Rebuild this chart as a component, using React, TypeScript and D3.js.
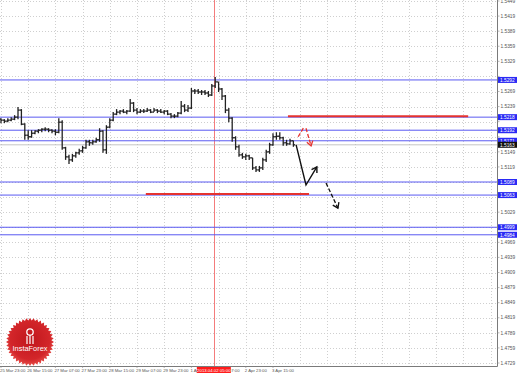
import React from "react";
import * as d3 from "d3";

const W = 518;
const H = 373;
const PLOT_RIGHT = 497;
const PLOT_BOTTOM = 366;

// 2-hour OHLC bars (open = previous close)
const firstOpen = 1.5214;
const highs = [
  1.5216, 1.5214, 1.5216, 1.5218, 1.5222, 1.5238, 1.5234, 1.5206, 1.5192, 1.5192,
  1.5192, 1.5194, 1.5196, 1.5198, 1.5196, 1.5194, 1.5194, 1.5216, 1.5212, 1.5159,
  1.5143, 1.5145, 1.5149, 1.5155, 1.5161, 1.5173, 1.5173, 1.5173, 1.5177, 1.5196,
  1.5192, 1.5202, 1.5216, 1.5228, 1.5234, 1.5232, 1.5234, 1.5232, 1.5254, 1.5248,
  1.5236, 1.5234, 1.5234, 1.5236, 1.5234, 1.5236, 1.5234, 1.5234, 1.5232, 1.5232,
  1.5226, 1.5224, 1.5228, 1.525, 1.5244, 1.5242, 1.5276, 1.5274, 1.5274, 1.5272,
  1.5272, 1.527, 1.5284, 1.5298, 1.5288, 1.5276, 1.5262, 1.5236, 1.5218, 1.518,
  1.5163, 1.5147, 1.5145, 1.5143, 1.5137, 1.5121, 1.5121, 1.5137, 1.5153, 1.5167,
  1.5186, 1.5188, 1.5188, 1.5179, 1.5173, 1.5175, 1.5171,
];
const lows = [
  1.5206, 1.5206, 1.5208, 1.521, 1.5212, 1.5214, 1.5202, 1.5173, 1.5173, 1.5177,
  1.5184, 1.5186, 1.5188, 1.519, 1.5188, 1.5186, 1.5182, 1.5186, 1.5153, 1.5133,
  1.5125, 1.5129, 1.5137, 1.5143, 1.5147, 1.5155, 1.5161, 1.5163, 1.5167, 1.5169,
  1.5147, 1.5145, 1.5196, 1.521, 1.5222, 1.5224, 1.5226, 1.5224, 1.5228, 1.5228,
  1.5224, 1.5226, 1.5226, 1.5228, 1.5226, 1.5228, 1.5226, 1.5226, 1.5224, 1.5222,
  1.5216, 1.5216, 1.5218, 1.5224, 1.5228, 1.5228, 1.5234, 1.5264, 1.5264, 1.5262,
  1.5262, 1.5258, 1.526, 1.5276, 1.5268, 1.5252, 1.5226, 1.5208, 1.5169, 1.5153,
  1.5139, 1.5135, 1.5133, 1.5133, 1.5113, 1.5109, 1.5109, 1.5113, 1.5129, 1.5145,
  1.5161, 1.5173, 1.5173, 1.5161, 1.5161, 1.5163, 1.5159,
];
const closes = [
  1.5212, 1.521, 1.5212, 1.5214, 1.5218, 1.5232, 1.5204, 1.5182, 1.5179, 1.5186,
  1.519, 1.5192, 1.5194, 1.5194, 1.5192, 1.519, 1.5188, 1.5208, 1.5157, 1.5139,
  1.5133, 1.5141, 1.5147, 1.5151, 1.5157, 1.5169, 1.5167, 1.5169, 1.5173, 1.519,
  1.5153, 1.5198, 1.5212, 1.5224, 1.5228, 1.523, 1.5228, 1.523, 1.5246, 1.5232,
  1.5228, 1.523, 1.523, 1.5232, 1.5228, 1.5232, 1.523, 1.5228, 1.523, 1.5224,
  1.522, 1.522, 1.5226, 1.524, 1.5232, 1.5236, 1.527, 1.527, 1.5268, 1.5268,
  1.5266, 1.5262, 1.528, 1.5288, 1.5274, 1.526, 1.5232, 1.5216, 1.5177, 1.5159,
  1.5143, 1.5139, 1.5141, 1.5137, 1.5117, 1.5113, 1.5117, 1.5133, 1.5149, 1.5163,
  1.5179, 1.518, 1.5177, 1.5167, 1.5165, 1.5171, 1.5163,
];

const timeLabels = [
  "25 Mar 23:00", "26 Mar 15:00", "27 Mar 07:00", "27 Mar 23:00", "28 Mar 15:00",
  "29 Mar 07:00", "29 Mar 23:00", "1 Apr 15:00", "2 Apr 07:00", "2 Apr 23:00", "3 Apr 15:00",
];
const timeLabelBars = [0, 8, 16, 24, 32, 40, 48, 56, 64, 72, 80];
const gridBars = [0, 8, 16, 24, 32, 40, 48, 56, 64, 72, 80, 88, 96, 104, 112, 120, 128, 136, 144];

const priceTicks = [
  1.4729, 1.4759, 1.4789, 1.4819, 1.4849, 1.4879, 1.4909, 1.4939, 1.4969, 1.4999,
  1.5029, 1.5059, 1.5089, 1.5119, 1.5149, 1.5179, 1.5209, 1.5239, 1.5269, 1.5299,
  1.5329, 1.5359, 1.5389, 1.5419, 1.5449,
];

const levelLines = [1.5292, 1.5218, 1.5192, 1.5171, 1.5089, 1.5063, 1.4999, 1.4984];
const bidPrice = 1.5163;

// Red horizontal zones: [fromBar, toBar, price]
const redLines: [number, number, number][] = [
  [84.4, 137.4, 1.522],
  [42.6, 90.6, 1.5065],
];
const markerBar = 62.6;
const markerLabel = "2013.04.02 05:00";

// Forecast arrows: [bar, price]
const arrowSolid: [number, number][] = [[86.8, 1.5163], [89.7, 1.5083], [92.9, 1.5119]];
const arrowDashed: [number, number][] = [[95.6, 1.5087], [99.1, 1.5037]];
const arrowRed: [number, number][] = [[87.4, 1.5179], [89.1, 1.5198], [89.7, 1.5196], [91.2, 1.5161]];

const x = d3.scaleLinear().domain([0, 80]).range([1, 273]);
const y = d3.scaleLinear().domain([1.4729, 1.5451]).range([363, 0]);

const fmt = d3.format(".4f");

function arrowHead(a: [number, number], b: [number, number], len = 6, ang = 0.5) {
  const dx = b[0] - a[0];
  const dy = b[1] - a[1];
  const t = Math.atan2(dy, dx);
  const p1: [number, number] = [b[0] - len * Math.cos(t - ang), b[1] - len * Math.sin(t - ang)];
  const p2: [number, number] = [b[0] - len * Math.cos(t + ang), b[1] - len * Math.sin(t + ang)];
  return `M${p1[0]},${p1[1]}L${b[0]},${b[1]}L${p2[0]},${p2[1]}`;
}

export default function App() {
  const opens = closes.map((_, i) => (i === 0 ? firstOpen : closes[i - 1]));
  const line = d3.line<[number, number]>().x((d) => x(d[0])).y((d) => y(d[1]));
  const pxSolid = arrowSolid.map((d) => [x(d[0]), y(d[1])] as [number, number]);
  const pxDashed = arrowDashed.map((d) => [x(d[0]), y(d[1])] as [number, number]);
  const pxRed = arrowRed.map((d) => [x(d[0]), y(d[1])] as [number, number]);

  // regular tick labels hidden behind highlighted level boxes
  const boxed = [...levelLines, bidPrice].map((p) => y(p));
  const visibleTicks = priceTicks.filter((p) => boxed.every((by) => Math.abs(by - y(p)) > 5));

  const cx = 30;
  const cy = 342;
  const starPts: [number, number][] = d3.range(80).map((i) => [
    (i * 2 * Math.PI) / 80,
    i % 2 === 0 ? 24 : 21.5,
  ]);
  const starPath = d3.lineRadial().curve(d3.curveLinearClosed)(starPts) || "";

  const font = "'Liberation Sans', Arial, sans-serif";

  return (
    <svg
      width={W}
      height={H}
      style={{ position: "absolute", left: 0, top: 0, background: "#fff" }}
      fontFamily={font}
    >
      <defs>
        <radialGradient id="seal" cx="50%" cy="45%" r="55%">
          <stop offset="0%" stopColor="#c0161c" />
          <stop offset="75%" stopColor="#d3262a" />
          <stop offset="100%" stopColor="#e8504a" />
        </radialGradient>
        <clipPath id="plot">
          <rect x={0} y={0} width={PLOT_RIGHT} height={PLOT_BOTTOM} />
        </clipPath>
      </defs>
      <rect width={W} height={H} fill="#fff" />

      {/* grid */}
      <g stroke="#cfcfcf" strokeWidth={1} strokeDasharray="1,2">
        {gridBars.map((b) => (
          <line key={"gv" + b} x1={Math.round(x(b)) + 0.5} x2={Math.round(x(b)) + 0.5} y1={0} y2={PLOT_BOTTOM} />
        ))}
        {priceTicks.map((p) => (
          <line key={"gh" + p} x1={0} x2={PLOT_RIGHT} y1={Math.round(y(p)) + 0.5} y2={Math.round(y(p)) + 0.5} />
        ))}
      </g>

      {/* seal logo */}
      <g>
        <path d={starPath} transform={`translate(${cx},${cy})`} fill="url(#seal)" />
        <circle cx={cx} cy={cy - 10} r={3.2} fill="none" stroke="#fff" strokeWidth={1.3} />
        <path
          d={`M${cx - 3},${cy - 6}L${cx - 3},${cy + 2}M${cx},${cy - 7}L${cx},${cy + 2}M${cx + 3},${cy - 6}L${cx + 3},${cy + 2}`}
          stroke="#fff"
          strokeWidth={1.2}
        />
        <text x={cx} y={cy + 8.5} textAnchor="middle" fontSize={7.4} fill="#fff">
          InstaForex
        </text>
      </g>

      <g clipPath="url(#plot)">
        {/* vertical marker */}
        <line x1={Math.round(x(markerBar)) + 0.5} x2={Math.round(x(markerBar)) + 0.5} y1={0} y2={PLOT_BOTTOM} stroke="#f47c7c" strokeWidth={1} />

        {/* level lines */}
        {levelLines.map((p) => (
          <line key={"lv" + p} x1={0} x2={PLOT_RIGHT} y1={y(p)} y2={y(p)} stroke="#5a5af2" strokeWidth={1} />
        ))}
        <line x1={0} x2={PLOT_RIGHT} y1={y(bidPrice)} y2={y(bidPrice)} stroke="#b8b8b8" strokeWidth={0.8} />

        {/* red zones */}
        {redLines.map((r, i) => (
          <line key={"rl" + i} x1={x(r[0])} x2={x(r[1])} y1={y(r[2])} y2={y(r[2])} stroke="#e5332f" strokeWidth={2} />
        ))}

        {/* OHLC bars */}
        <g stroke="#222" strokeWidth={1.3}>
          {closes.map((c, i) => {
            const xi = x(i);
            return (
              <g key={"b" + i}>
                <line x1={xi} x2={xi} y1={y(highs[i])} y2={y(lows[i])} />
                <line x1={xi - 1.7} x2={xi} y1={y(opens[i])} y2={y(opens[i])} />
                <line x1={xi} x2={xi + 1.7} y1={y(c)} y2={y(c)} />
              </g>
            );
          })}
        </g>

        {/* forecast arrows */}
        <path d={line(arrowSolid) || ""} fill="none" stroke="#111" strokeWidth={1.4} />
        <path d={arrowHead(pxSolid[1], pxSolid[2], 6, 0.55)} fill="none" stroke="#111" strokeWidth={1.4} />
        <path d={line(arrowDashed) || ""} fill="none" stroke="#111" strokeWidth={1.3} strokeDasharray="4,2" />
        <path d={arrowHead(pxDashed[0], pxDashed[1], 6, 0.6)} fill="none" stroke="#111" strokeWidth={1.3} />
        <path d={line(arrowRed.slice(0, 2)) || ""} fill="none" stroke="#e5332f" strokeWidth={1.3} strokeDasharray="4,2" />
        <path d={line(arrowRed.slice(2)) || ""} fill="none" stroke="#e5332f" strokeWidth={1.3} strokeDasharray="4,2" />
        <path d={arrowHead(pxRed[2], pxRed[3], 5.5, 0.6)} fill="none" stroke="#e5332f" strokeWidth={1.3} />
      </g>

      {/* axes */}
      <line x1={PLOT_RIGHT + 0.5} x2={PLOT_RIGHT + 0.5} y1={0} y2={PLOT_BOTTOM + 0.5} stroke="#7a7a7a" />
      <line x1={0} x2={PLOT_RIGHT + 0.5} y1={PLOT_BOTTOM + 0.5} y2={PLOT_BOTTOM + 0.5} stroke="#7a7a7a" />

      {/* price tick labels */}
      <g fontSize={4.8} fill="#555">
        {priceTicks.map((p) => (
          <line key={"ptk" + p} x1={PLOT_RIGHT} x2={PLOT_RIGHT + 2.5} y1={y(p)} y2={y(p)} stroke="#888" strokeWidth={0.6} />
        ))}
        {visibleTicks.map((p) => (
          <text key={"pt" + p} x={PLOT_RIGHT + 3.5} y={y(p) + 1.7}>
            {fmt(p)}
          </text>
        ))}
      </g>

      {/* level labels */}
      {levelLines.map((p) => (
        <g key={"ll" + p}>
          <rect x={PLOT_RIGHT + 1} y={y(p) - 3} width={19} height={6} fill="#2a2af5" />
          <text x={PLOT_RIGHT + 3} y={y(p) + 1.8} fontSize={4.8} fill="#fff">
            {fmt(p)}
          </text>
        </g>
      ))}
      <rect x={PLOT_RIGHT + 1} y={y(bidPrice) - 3} width={19} height={6} fill="#111" />
      <text x={PLOT_RIGHT + 3} y={y(bidPrice) + 1.8} fontSize={4.8} fill="#fff">
        {fmt(bidPrice)}
      </text>

      {/* time labels */}
      <g fontSize={4.3} fill="#555">
        {timeLabels.map((t, i) => (
          <g key={"tl" + i}>
            <line x1={x(timeLabelBars[i])} x2={x(timeLabelBars[i])} y1={PLOT_BOTTOM} y2={PLOT_BOTTOM + 2} stroke="#888" strokeWidth={0.6} />
            <text x={x(timeLabelBars[i]) - 1} y={372}>
              {t}
            </text>
          </g>
        ))}
      </g>
      <rect x={x(markerBar) - 17} y={PLOT_BOTTOM + 1} width={34} height={6} fill="#ff1c1c" />
      <text x={x(markerBar)} y={372} fontSize={4.3} fill="#fff" textAnchor="middle">
        {markerLabel}
      </text>
    </svg>
  );
}
